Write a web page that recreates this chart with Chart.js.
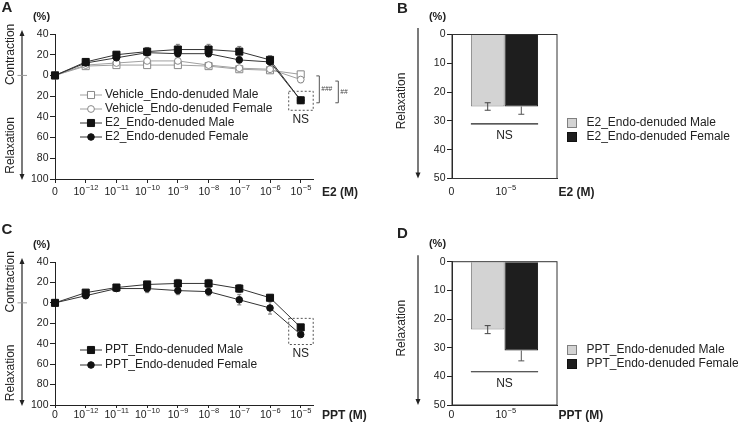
<!DOCTYPE html>
<html>
<head>
<meta charset="utf-8">
<script src="https://cdn.jsdelivr.net/npm/chart.js@4.4.1/dist/chart.umd.min.js"></script>
<style>
  body { margin: 0; background: #fff; }
  #wrap { position: relative; width: 738px; height: 425px; overflow: hidden; }
  canvas { position: absolute; }
</style>
</head>
<body>
<div id="wrap">
  <canvas id="chartA" style="left:0;top:0;width:369px;height:212px" width="369" height="212"></canvas>
  <canvas id="chartB" style="left:369px;top:0;width:369px;height:212px" width="369" height="212"></canvas>
  <canvas id="chartC" style="left:0;top:212px;width:369px;height:213px" width="369" height="213"></canvas>
  <canvas id="chartD" style="left:369px;top:212px;width:369px;height:213px" width="369" height="213"></canvas>
</div>
<script>
// dose axis (base, exponent)
const doseLabels = [['0', ''], ['10', '−12'], ['10', '−11'], ['10', '−10'], ['10', '−9'],
                    ['10', '−8'], ['10', '−7'], ['10', '−6'], ['10', '−5']]

// panel A: contraction (+) / relaxation (-), %
const vehMale      = [0, 9, 10, 10, 10, 9, 6, 5, 1]
const vehMaleErr   = [0, 2, 2, 2, 2, 2, 2, 2, 3]
const vehFemale    = [0, 10, 12, 14, 14, 10, 7, 6, -4]
const vehFemaleErr = [0, 2, 2, 3, 3, 2, 2, 2, 3]
const e2Male       = [0, 13, 20, 23, 25, 25, 23, 15, -24]
const e2MaleErr    = [0, 3, 3, 4, 5, 5, 5, 4, 2]
const e2Female     = [0, 12, 17, 22, 21, 21, 15, 13, -24]
const e2FemaleErr  = [0, 3, 3, 3, 3, 3, 3, 4, 2]
const sigA = ['###', '##']

// panel C
const pptMale      = [0, 10, 15, 18, 19, 19, 14, 5, -24]
const pptMaleErr   = [0, 2, 3, 3, 4, 4, 4, 3, 2]
const pptFemale    = [0, 7, 14, 14, 12, 11, 3, -5, -31]
const pptFemaleErr = [0, 2, 2, 4, 4, 4, 5, 6, 2]

// panels B and D: relaxation at 10^-5 M, %
const barLabel = [['10', '−5']]
const e2BarMale = [25], e2BarMaleErr = [1.3]
const e2BarFemale = [25], e2BarFemaleErr = [2.7]
const e2BarNS = 31
const pptBarMale = [23.7], pptBarMaleErr = [1.4]
const pptBarFemale = [31], pptBarFemaleErr = [3.6]
const pptBarNS = 38.4

const FONT = "'Liberation Sans', Arial, Helvetica, sans-serif"
const INK = '#222'

function txt(ctx, s, x, y, size, o = {}) {
  ctx.save()
  ctx.font = `${o.style || 'normal'} ${o.weight || 'normal'} ${size}px ${FONT}`
  ctx.fillStyle = o.color || INK
  ctx.textAlign = o.align || 'left'
  ctx.textBaseline = 'middle'
  ctx.translate(x, y)
  if (o.rotate) ctx.rotate(o.rotate)
  ctx.fillText(s, 0, 0)
  ctx.restore()
}

function powLabel(ctx, lab, x, y) {
  const [base, exp] = lab
  ctx.save()
  ctx.font = `10.5px ${FONT}`
  const w1 = ctx.measureText(base).width
  ctx.font = `7.5px ${FONT}`
  const w2 = exp ? ctx.measureText(exp).width : 0
  const left = x - (w1 + w2) / 2
  ctx.restore()
  txt(ctx, base, left, y, 10.5)
  if (exp) txt(ctx, exp, left + w1 + 0.5, y - 5, 7.5)
}

function arrow(ctx, x, y1, y2, both) {
  ctx.save()
  ctx.strokeStyle = INK; ctx.fillStyle = INK; ctx.lineWidth = 1.2
  ctx.beginPath(); ctx.moveTo(x, y1 + (both ? 4 : 0)); ctx.lineTo(x, y2 - 4); ctx.stroke()
  ctx.beginPath(); ctx.moveTo(x, y2); ctx.lineTo(x - 2.5, y2 - 6); ctx.lineTo(x + 2.5, y2 - 6); ctx.fill()
  if (both) {
    ctx.beginPath(); ctx.moveTo(x, y1); ctx.lineTo(x - 2.5, y1 + 6); ctx.lineTo(x + 2.5, y1 + 6); ctx.fill()
  }
  ctx.restore()
}

function marker(ctx, ds, x, y) {
  ctx.save()
  ctx.fillStyle = ds.pointBackgroundColor; ctx.strokeStyle = ds.pointBorderColor; ctx.lineWidth = 1
  ctx.beginPath()
  if (ds.pointStyle === 'rect') {
    const h = Math.SQRT1_2 * ds.pointRadius
    ctx.rect(x - h, y - h, 2 * h, 2 * h)
  } else ctx.arc(x, y, ds.pointRadius, 0, Math.PI * 2)
  ctx.fill(); ctx.stroke()
  ctx.restore()
}

// errOuter: only the half that points away from the bar base (hidden half is under the bar)
function drawErrors(chart, cap) {
  const ctx = chart.ctx, ys = chart.scales.y
  chart.data.datasets.forEach((ds, di) => {
    const meta = chart.getDatasetMeta(di)
    ds.errs.forEach((e, i) => {
      if (!e) return
      const d = ds.data[i], v = typeof d === 'object' ? d.y : d
      const x = meta.data[i].x
      const a = ds.errOuter ? ys.getPixelForValue(v) : ys.getPixelForValue(v - e)
      const b = ys.getPixelForValue(v + e)
      ctx.save()
      ctx.strokeStyle = ds.errColor; ctx.lineWidth = 1
      ctx.beginPath()
      ctx.moveTo(x, a); ctx.lineTo(x, b)
      if (!ds.errOuter) { ctx.moveTo(x - cap, a); ctx.lineTo(x + cap, a) }
      ctx.moveTo(x - cap, b); ctx.lineTo(x + cap, b)
      ctx.stroke()
      ctx.restore()
    })
  })
}

function lineSet(label, values, errs, style) {
  return Object.assign({
    label, errs,
    data: values.map((v, i) => ({ x: i, y: v })),
    borderWidth: 1, pointBorderWidth: 1, clip: false, tension: 0
  }, style)
}

const blackSquare = { borderColor: '#333', pointStyle: 'rect', pointRadius: 5, pointBackgroundColor: '#111', pointBorderColor: '#111', errColor: '#777' }
const blackCircle = { borderColor: '#333', pointStyle: 'circle', pointRadius: 3.3, pointBackgroundColor: '#111', pointBorderColor: '#111', errColor: '#777' }
const openSquare = { borderColor: '#a0a0a0', pointStyle: 'rect', pointRadius: 5, pointBackgroundColor: '#fff', pointBorderColor: '#888', errColor: '#999' }
const openCircle = { borderColor: '#a0a0a0', pointStyle: 'circle', pointRadius: 3.4, pointBackgroundColor: '#fff', pointBorderColor: '#888', errColor: '#999' }

function baseOptions(area, W, H) {
  return {
    responsive: false, animation: false, events: [],
    layout: { padding: { left: 0, top: area.top, right: W - area.right, bottom: H - area.bottom - 6 } },
    plugins: { legend: { display: false }, tooltip: { enabled: false } }
  }
}

function yScale(area, min, max, step, reverse) {
  return {
    min, max, reverse,
    afterFit: s => { s.width = area.left },
    ticks: { stepSize: step, callback: v => Math.abs(v), padding: 1.5, color: INK, font: { family: FONT, size: 10.5 } },
    grid: { drawOnChartArea: false, tickLength: 5, color: INK },
    border: { color: INK, width: 1 }
  }
}

function lineOptions(area, W, H, tickLen) {
  const o = baseOptions(area, W, H)
  o.scales = {
    x: {
      type: 'linear', min: 0, max: 8.4,
      afterBuildTicks: s => { s.ticks = doseLabels.map((_, i) => ({ value: i })) },
      afterFit: s => { s.height = 6 },
      ticks: { callback: () => '', autoSkip: false },
      grid: { drawOnChartArea: false, tickLength: tickLen, color: INK },
      border: { color: INK, width: 1 }
    },
    y: yScale(area, -100, 40, 20, false)
  }
  return o
}

function barOptions(area, W, H) {
  const o = baseOptions(area, W, H)
  o.scales = {
    x: {
      afterFit: s => { s.height = 6 },
      ticks: { display: false },
      grid: { display: false },
      border: { color: INK, width: 1 }
    },
    y: yScale(area, 0, 50, 10, true)
  }
  o.datasets = { bar: { categoryPercentage: 0.64, barPercentage: 1 } }
  return o
}

// decorations shared by the two line panels
function lineDecor(chart, d) {
  const ctx = chart.ctx, ca = chart.chartArea, ys = chart.scales.y, xs = chart.scales.x
  const y0 = ys.getPixelForValue(0)
  txt(ctx, d.letter, 1.5, d.letterY, 15, { weight: 'bold' })
  txt(ctx, '(%)', 41.5, ca.top - 17, 11, { weight: 'bold', align: 'center' })
  arrow(ctx, 22, ca.top - 4, ca.bottom + 1, true)
  ctx.save(); ctx.strokeStyle = '#999'; ctx.lineWidth = 1
  ctx.beginPath(); ctx.moveTo(17.5, y0); ctx.lineTo(27, y0); ctx.stroke(); ctx.restore()
  txt(ctx, 'Contraction', 11, y0 - 21, 12, { align: 'center', rotate: -Math.PI / 2 })
  txt(ctx, 'Relaxation', 11, y0 + 70, 12, { align: 'center', rotate: -Math.PI / 2 })
  doseLabels.forEach((lab, i) => powLabel(ctx, lab, xs.getPixelForValue(i), d.labelY))
  txt(ctx, d.unit, 322, d.labelY, 12, { weight: 'bold' })

  // legend
  d.legend.forEach((di, k) => {
    const ds = chart.data.datasets[di], y = d.legendY + k * d.legendStep
    ctx.save(); ctx.strokeStyle = ds.borderColor; ctx.lineWidth = 1
    ctx.beginPath(); ctx.moveTo(80, y); ctx.lineTo(102, y); ctx.stroke(); ctx.restore()
    marker(ctx, ds, 91, y)
    txt(ctx, ds.label, 105, y, 12)
  })

  // dashed box around the last dose + NS
  const last = doseLabels.length - 1
  const px = xs.getPixelForValue(last)
  const vals = d.boxSets.map(di => chart.data.datasets[di].data[last].y)
  const top = ys.getPixelForValue(Math.max(...vals)) - 9
  const bot = ys.getPixelForValue(Math.min(...vals)) + 10
  ctx.save(); ctx.strokeStyle = '#555'; ctx.lineWidth = 1; ctx.setLineDash([2, 2])
  ctx.strokeRect(px - 12, top, 24.5, bot - top); ctx.restore()
  txt(ctx, 'NS', px, bot + 9.5, 12, { align: 'center' })

  // significance brackets
  if (d.brackets) {
    d.brackets.forEach((b, k) => {
      const bx = px + 18.6 + k * 19
      const t = ys.getPixelForValue(chart.data.datasets[b.from].data[last].y) + 1.5
      const e = ys.getPixelForValue(chart.data.datasets[b.to].data[last].y) + 2.5
      ctx.save(); ctx.strokeStyle = '#555'; ctx.lineWidth = 1
      ctx.beginPath()
      ctx.moveTo(bx - 3, t); ctx.lineTo(bx, t); ctx.lineTo(bx, e); ctx.lineTo(bx - 3, e)
      ctx.stroke(); ctx.restore()
      txt(ctx, b.text, bx + 2, (t + e) / 2, 6.5, { style: 'italic', color: '#444' })
    })
  }
}

function barDecor(chart, d) {
  const ctx = chart.ctx, ca = chart.chartArea, ys = chart.scales.y
  ctx.save(); ctx.strokeStyle = '#333'; ctx.lineWidth = 1
  ctx.strokeRect(ca.left, ca.top, ca.right - ca.left, ca.bottom - ca.top); ctx.restore()
  txt(ctx, d.letter, 28, d.letterY, 15, { weight: 'bold' })
  txt(ctx, '(%)', 68.5, ca.top - 17.5, 11, { weight: 'bold', align: 'center' })
  arrow(ctx, 49, ca.top - 6.5, ca.bottom, false)
  txt(ctx, 'Relaxation', 33, ca.top + 66.5, 12, { align: 'center', rotate: -Math.PI / 2 })
  txt(ctx, '0', ca.left - 0.5, d.labelY, 10.5, { align: 'center' })
  const m0 = chart.getDatasetMeta(0).data[0], m1 = chart.getDatasetMeta(1).data[0]
  const cx = (m0.x + m1.x) / 2
  powLabel(ctx, barLabel[0], cx + 1, d.labelY)
  txt(ctx, d.unit, ca.right + 1.5, d.labelY, 12, { weight: 'bold' })

  // NS line
  const ny = ys.getPixelForValue(d.ns)
  const l = m0.x - m0.width / 2, r = m1.x + m1.width / 2
  ctx.save(); ctx.strokeStyle = INK; ctx.lineWidth = 1.2
  ctx.beginPath(); ctx.moveTo(l, ny); ctx.lineTo(r, ny); ctx.stroke(); ctx.restore()
  txt(ctx, 'NS', cx, ny + 11.5, 12, { align: 'center' })

  // legend
  chart.data.datasets.forEach((ds, k) => {
    const y = d.legendY + k * 14
    ctx.save(); ctx.fillStyle = ds.backgroundColor; ctx.strokeStyle = ds.borderColor; ctx.lineWidth = 1
    ctx.fillRect(198, y - 5, 10, 10); ctx.strokeRect(198.5, y - 4.5, 9, 9); ctx.restore()
    txt(ctx, ds.label, 217.5, y, 12)
  })
}

function barSet(label, values, errs, fill, border, errColor, errOuter) {
  return { label, data: values, errs, backgroundColor: fill, borderColor: border, borderWidth: 1, errColor, errOuter }
}

// ---------- A ----------
const areaA = { left: 55, right: 313, top: 34, bottom: 179 }
new Chart(document.getElementById('chartA'), {
  type: 'line',
  data: {
    datasets: [
      lineSet('Vehicle_Endo-denuded Male', vehMale, vehMaleErr, Object.assign({ order: 3 }, openSquare)),
      lineSet('Vehicle_Endo-denuded Female', vehFemale, vehFemaleErr, Object.assign({ order: 2 }, openCircle)),
      lineSet('E2_Endo-denuded Male', e2Male, e2MaleErr, Object.assign({ order: 0 }, blackSquare)),
      lineSet('E2_Endo-denuded Female', e2Female, e2FemaleErr, Object.assign({ order: 1 }, blackCircle))
    ]
  },
  options: lineOptions(areaA, 369, 212, 4),
  plugins: [{
    id: 'decorA',
    beforeDatasetsDraw: c => drawErrors(c, 2),
    afterDraw: c => lineDecor(c, {
      letter: 'A', letterY: 7.5, labelY: 192.5, unit: 'E2 (M)',
      legend: [0, 1, 2, 3], legendY: 95, legendStep: 14,
      boxSets: [2], brackets: [{ from: 0, to: 2, text: sigA[0] }, { from: 1, to: 2, text: sigA[1] }]
    })
  }]
})

// ---------- C ----------
const areaC = { left: 55, right: 313, top: 50, bottom: 193 }
new Chart(document.getElementById('chartC'), {
  type: 'line',
  data: {
    datasets: [
      lineSet('PPT_Endo-denuded Male', pptMale, pptMaleErr, Object.assign({ order: 0 }, blackSquare)),
      lineSet('PPT_Endo-denuded Female', pptFemale, pptFemaleErr, Object.assign({ order: 1 }, blackCircle))
    ]
  },
  options: lineOptions(areaC, 369, 213, 3),
  plugins: [{
    id: 'decorC',
    beforeDatasetsDraw: c => drawErrors(c, 2),
    afterDraw: c => lineDecor(c, {
      letter: 'C', letterY: 18, labelY: 203.5, unit: 'PPT (M)',
      legend: [0, 1], legendY: 138, legendStep: 15,
      boxSets: [0, 1]
    })
  }]
})

// ---------- B ----------
const areaB = { left: 83, right: 188, top: 34.5, bottom: 178.5 }
new Chart(document.getElementById('chartB'), {
  type: 'bar',
  data: {
    labels: ['10^-5'],
    datasets: [
      barSet('E2_Endo-denuded Male', e2BarMale, e2BarMaleErr, '#d3d3d3', '#808080', '#444', false),
      barSet('E2_Endo-denuded Female', e2BarFemale, e2BarFemaleErr, '#1e1e1e', '#111', '#555', true)
    ]
  },
  options: barOptions(areaB, 369, 212),
  plugins: [{
    id: 'decorB',
    afterDatasetsDraw: c => drawErrors(c, 3),
    afterDraw: c => barDecor(c, { letter: 'B', letterY: 8.5, labelY: 192.5, unit: 'E2 (M)', ns: e2BarNS, legendY: 123 })
  }]
})

// ---------- D ----------
const areaD = { left: 83, right: 188, top: 49.7, bottom: 193 }
new Chart(document.getElementById('chartD'), {
  type: 'bar',
  data: {
    labels: ['10^-5'],
    datasets: [
      barSet('PPT_Endo-denuded Male', pptBarMale, pptBarMaleErr, '#d3d3d3', '#808080', '#444', false),
      barSet('PPT_Endo-denuded Female', pptBarFemale, pptBarFemaleErr, '#1e1e1e', '#111', '#555', true)
    ]
  },
  options: barOptions(areaD, 369, 213),
  plugins: [{
    id: 'decorD',
    afterDatasetsDraw: c => drawErrors(c, 3),
    afterDraw: c => barDecor(c, { letter: 'D', letterY: 22, labelY: 203.5, unit: 'PPT (M)', ns: pptBarNS, legendY: 138 })
  }]
})
</script>
</body>
</html>
